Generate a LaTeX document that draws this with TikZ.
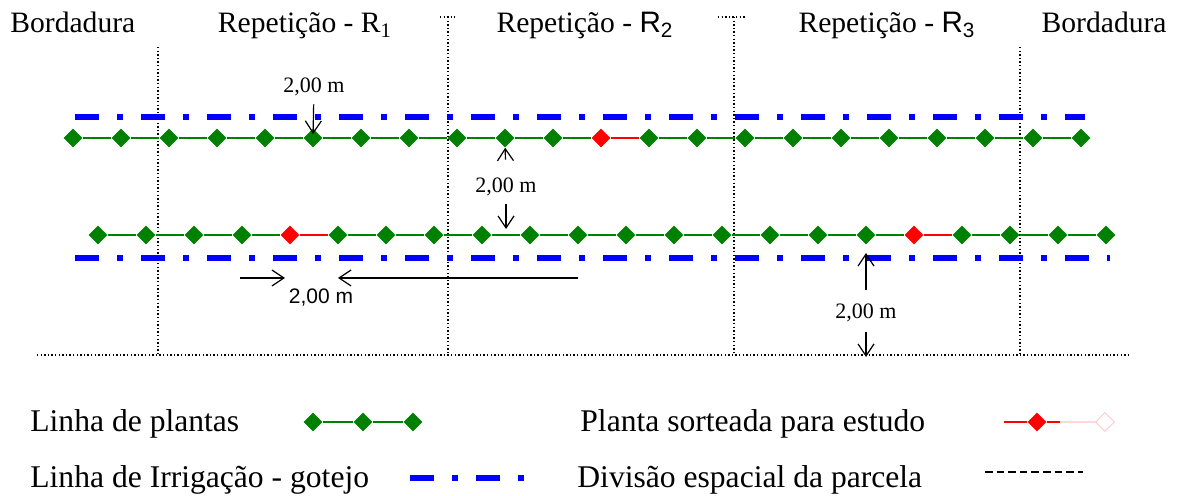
\documentclass[tikz,border=0pt]{standalone}
\usepackage{fontspec}
\setmainfont{Liberation Serif}
\setsansfont{Liberation Sans}
\usetikzlibrary{shapes.geometric, arrows.meta, calc, positioning}
\colorlet{plantColor}{green!50!black}
\colorlet{pickColor}{red}
\colorlet{dripColor}{blue}
\tikzstyle{plant}=[diamond, minimum size=9.5pt, inner sep=0pt, fill=plantColor]
\tikzstyle{pick}=[plant, fill=pickColor]
\tikzstyle{rowLine}=[line width=1pt, draw=plantColor]
\tikzstyle{pickLine}=[line width=1pt, draw=pickColor]
\tikzstyle{dripLine}=[line width=2.8pt, draw=dripColor, dash pattern=on 12pt off 9pt on 3pt off 9pt]
\tikzstyle{split}=[line width=0.7pt, dash pattern=on 0.7pt off 1.1pt]
\tikzstyle{keySplit}=[line width=0.6pt, dash pattern=on 3.8pt off 2pt]
\tikzstyle{dim}=[-{Straight Barb[length=6pt,width=8pt]}, line width=0.6pt]
\tikzstyle{title}=[font=\fontsize{14.8}{17}\selectfont, inner sep=0pt, anchor=base]
\tikzstyle{legend}=[font=\fontsize{15.8}{18}\selectfont, anchor=base west, inner sep=0pt]
\tikzstyle{measure}=[font=\fontsize{11}{13}\selectfont, inner sep=1pt]

\begin{document}
\begin{tikzpicture}[x=0.5pt, y=-0.5pt]
  \useasboundingbox (0,0) rectangle (1184,496);
  % titles
  \node(borderL) [title, anchor=base west] at (10,33) {Bordadura};
  \node(rep1) [title] at (305,33) {Repetição - R\textsubscript{1}};
  \node(rep2) [title] at (585,33) {Repetição - {\sffamily R\textsubscript{2}}};
  \node(rep3) [title] at (887,33) {Repetição - {\sffamily R\textsubscript{3}}};
  \node(borderR) [title, anchor=base east] at (1167,33) {Bordadura};
  % divisions
  \coordinate(div1N) at (158,47);  \coordinate(div1S) at (158,355);
  \coordinate(div2N) at (448,17);  \coordinate(div2S) at (448,355);
  \coordinate(div3N) at (734,17);  \coordinate(div3S) at (734,355);
  \coordinate(div4N) at (1020,47); \coordinate(div4S) at (1020,355);
  \coordinate(baseW) at (37,355);  \coordinate(baseE) at (1128,355);
  \draw [split] (div1N) -- (div1S);
  \draw [split] (div2N) -- (div2S);
  \draw [split] (div3N) -- (div3S);
  \draw [split] (div4N) -- (div4S);
  \draw [split] ($(div2N)+(-8,0)$) -- ($(div2N)+(7,0)$);
  \draw [split] ($(div3N)+(-16,0)$) -- ($(div3N)+(12,0)$);
  \draw [split] (baseW) -- (baseE);
  % drip lines
  \coordinate(dripTopW) at (75,117); \coordinate(dripTopE) at (1085,117);
  \coordinate(dripBotW) at (75,258); \coordinate(dripBotE) at (1110,258);
  \draw [dripLine] (dripTopW) -- (dripTopE);
  \draw [dripLine] (dripBotW) -- (dripBotE);
  % plant rows
  \foreach \i in {0,...,21}{
    \def\kind{plant}\ifnum\i=11 \def\kind{pick}\fi
    \node(t\i) [\kind] at ({73+48*\i},138) {};
  }
  \foreach \i in {0,...,21}{
    \def\kind{plant}\ifnum\i=4 \def\kind{pick}\fi\ifnum\i=17 \def\kind{pick}\fi
    \node(b\i) [\kind] at ({98+48*\i},235) {};
  }
  \foreach \i [count=\j from 1] in {0,...,20}{
    \draw [rowLine] (t\i) -- (t\j);
    \draw [rowLine] (b\i) -- (b\j);
  }
  \draw [pickLine] (t11) -- (t12);
  \draw [pickLine] (b4) -- (b5);
  \draw [pickLine] (b17) -- (b18);
  % measures
  \node(gapTop) [measure] at (314,87) {2,00 m};
  \draw [dim, shorten <=3pt, shorten >=2pt] (gapTop) -- (t5.center);
  \node(gapMid) [measure] at (506,187) {2,00 m};
  \coordinate(midDrop) at ($(b8)!0.5!(b9)$);
  \draw [dim, shorten <=8pt] (gapMid) -- (t9);
  \draw [dim, shorten <=3pt, shorten >=3pt] (gapMid) -- (midDrop);
  \coordinate(spanL) at (240,278); \coordinate(spanR) at (578,278);
  \draw [dim, shorten >=2.5pt] (spanL) -- (b4 |- spanL);
  \draw [dim] (spanR) -- (b5 |- spanR);
  \node(gapRow) [measure, font=\fontsize{10.5}{12}\sffamily] at (321,298) {2,00 m};
  \node(gapEdge) [measure] at (866,313) {2,00 m};
  \coordinate(edgeUp) at (866,253);
  \draw [dim, shorten <=6pt] (gapEdge) -- (edgeUp);
  \draw [dim, shorten <=4pt, shorten >=-1pt] (gapEdge) -- (gapEdge |- baseW);
  % legend
  \node(keyPlants) [legend] at (30,432) {Linha de plantas};
  \node(keyA) [plant] at (313,422) {};
  \node(keyB) [plant] at (363,422) {};
  \node(keyC) [plant] at (413,422) {};
  \draw [rowLine, line width=0.8pt] (keyA) -- (keyB);
  \draw [rowLine, line width=0.8pt] (keyB) -- (keyC);
  \node(keyPick) [legend] at (580,432) {Planta sorteada para estudo};
  \coordinate(pickKeyW) at (1004,422);
  \node(pickKey) [pick] at (1037,422) {};
  \coordinate(pickKeyE) at (1060,422);
  \node(pickGhost) [plant, fill=white, draw=red!25, line width=0.4pt] at (1105,422) {};
  \draw [pickLine] (pickKeyW) -- (pickKey);
  \draw [pickLine] (pickKey) -- (pickKeyE);
  \draw [draw=red!15, line width=1pt] (pickKeyE) -- (pickGhost);
  \node(keyDrip) [legend] at (30,488) {Linha de Irrigação - gotejo};
  \coordinate(dripKeyW) at (410,478); \coordinate(dripKeyE) at (526,478);
  \draw [dripLine] (dripKeyW) -- (dripKeyE);
  \node(keySplit) [legend] at (577,488) {Divisão espacial da parcela};
  \coordinate(splitKeyW) at (985,472); \coordinate(splitKeyE) at (1083,472);
  \draw [keySplit] (splitKeyW) -- (splitKeyE);
\end{tikzpicture}
\end{document}
